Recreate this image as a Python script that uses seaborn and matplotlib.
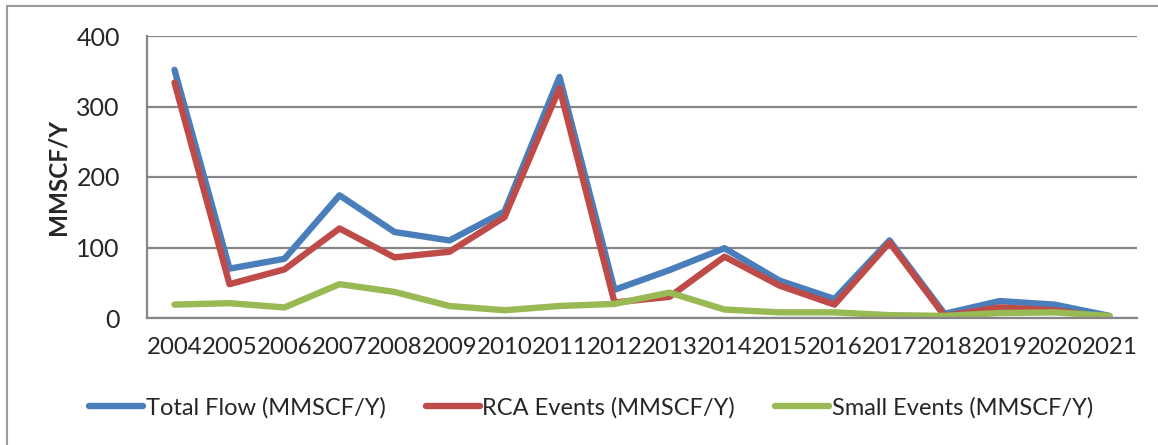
import matplotlib
matplotlib.use("Agg")
import matplotlib.pyplot as plt
from matplotlib.patches import Rectangle
import seaborn as sns
import pandas as pd
import numpy as np

# ----------------------------------------------------------------------
# data
# ----------------------------------------------------------------------
years = ["2004", "2005", "2006", "2007", "2008", "2009", "2010", "2011", "2012",
         "2013", "2014", "2015", "2016", "2017", "2018", "2019", "2020", "2021"]
total_flow = [352, 70, 84, 174, 122, 110, 151, 342, 40, 68, 99, 53, 27, 110, 6, 24, 19, 3]
rca_events = [334, 48, 69, 127, 86, 94, 143, 326, 22, 30, 87, 46, 19, 107, 3, 15, 11, 0]
small_events = [19, 21, 15, 48, 37, 17, 11, 17, 20, 36, 12, 8, 8, 4, 3, 7, 8, 3]
series_names = ["Total Flow (MMSCF/Y)", "RCA Events (MMSCF/Y)", "Small Events (MMSCF/Y)"]
colors = ["#4A7EBB", "#BE4B48", "#98B954"]

df = pd.DataFrame({
    "idx": list(range(len(years))) * 3,
    "value": total_flow + rca_events + small_events,
    "series": np.repeat(series_names, len(years)),
})

sns.set_style("white")
plt.rcParams["font.family"] = ["Lato", "DejaVu Sans"]

fig = plt.figure(figsize=(11.58, 4.45), dpi=100)
W, H = 1158, 445
ax = fig.add_axes([147 / W, 1 - 318 / H, (1137 - 147) / W, (318 - 36) / H])

# outer chart frame (cropped at right / bottom like the original)
fig.patches.append(Rectangle((7 / W, -0.05), 1.2, 1 - 6 / H + 0.05,
                             transform=fig.transFigure, fill=False,
                             edgecolor="#9a9a9a", linewidth=1.5))

sns.lineplot(data=df, x="idx", y="value", hue="series", hue_order=series_names,
             palette=colors, linewidth=4.6, ax=ax, legend=False)

ax.set_xlim(-0.5, len(years) - 0.5)
ax.set_ylim(0, 400)
ax.set_yticks([0, 100, 200, 300, 400])
ax.yaxis.grid(True, color="#868686", linewidth=1.6)
ax.set_axisbelow(True)

# category labels centered, tick marks on the boundaries
ax.set_xticks(range(len(years)))
ax.set_xticklabels(years)
ax.set_xticks(np.arange(-0.5, len(years)), minor=True)
ax.tick_params(axis="x", which="major", length=0, pad=14, labelsize=17.3)
ax.tick_params(axis="x", which="minor", length=6, width=1.5, color="#868686", direction="out")
ax.tick_params(axis="y", length=6.5, width=1.5, color="#868686", direction="out",
               pad=13, labelsize=18)

for side in ["top", "right"]:
    ax.spines[side].set_visible(False)
for side in ["left", "bottom"]:
    ax.spines[side].set_color("#868686")
    ax.spines[side].set_linewidth(1.6)

ax.set_xlabel("")
ax.set_ylabel("")
fig.text(58 / W, 1 - 177 / H, "MMSCF/Y", rotation=90, ha="center", va="center",
         fontsize=17.5, fontweight="bold")

handles = [plt.Line2D([], [], color=c, linewidth=4.6) for c in colors]
fig.legend(handles, series_names, loc="center", bbox_to_anchor=(591 / W, 1 - 408 / H),
           ncol=3, frameon=False, fontsize=17, handlelength=2.3, handletextpad=0.1,
           columnspacing=1.7)

fig.savefig("out.png", dpi=100)
